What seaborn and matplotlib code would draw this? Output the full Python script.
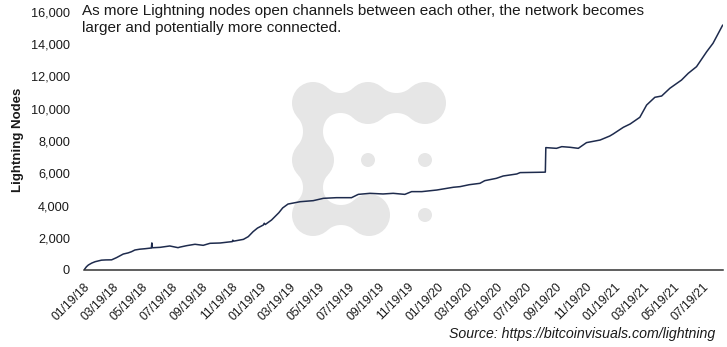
import numpy as np
import pandas as pd
import matplotlib
matplotlib.use("Agg")
import matplotlib.pyplot as plt
from matplotlib.patches import Circle, Polygon
import seaborn as sns

# ---------------- data ----------------
dates = [
    "2018-01-19", "2018-01-24", "2018-01-28", "2018-02-04", "2018-02-11", "2018-02-24",
    "2018-03-05", "2018-03-17", "2018-03-27", "2018-04-10", "2018-04-20", "2018-04-27",
    "2018-05-04", "2018-05-14", "2018-05-25", "2018-06-07", "2018-06-08", "2018-06-09",
    "2018-06-25", "2018-07-15", "2018-08-01", "2018-08-05", "2018-08-19", "2018-09-05",
    "2018-09-22", "2018-10-06", "2018-10-27", "2018-11-13", "2018-11-21", "2018-11-22",
    "2018-11-24", "2018-12-14", "2018-12-24", "2019-01-03", "2019-01-12", "2019-01-24",
    "2019-01-26", "2019-01-28", "2019-02-10", "2019-02-25", "2019-03-05", "2019-03-16",
    "2019-04-10", "2019-05-07", "2019-05-28", "2019-06-24", "2019-07-25", "2019-08-08",
    "2019-09-01", "2019-09-28", "2019-10-19", "2019-11-12", "2019-11-26", "2019-12-17",
    "2020-01-17", "2020-02-20", "2020-03-05", "2020-03-24", "2020-04-15", "2020-04-25",
    "2020-05-19", "2020-06-02", "2020-06-30", "2020-07-07", "2020-08-24", "2020-08-28",
    "2020-08-29", "2020-09-20", "2020-10-01", "2020-10-18", "2020-11-04", "2020-11-21",
    "2020-12-19", "2021-01-08", "2021-01-15", "2021-02-05", "2021-02-19", "2021-03-11",
    "2021-03-25", "2021-04-11", "2021-04-25", "2021-05-12", "2021-06-05", "2021-06-19",
    "2021-07-06", "2021-07-13", "2021-07-27", "2021-08-09", "2021-08-20", "2021-08-29",
]
nodes = [
    0, 200, 310, 430, 515, 610,
    625, 630, 765, 990, 1060, 1135,
    1240, 1290, 1320, 1365, 1680, 1380,
    1405, 1490, 1385, 1420, 1510, 1595,
    1530, 1655, 1675, 1735, 1760, 1850,
    1790, 1900, 2070, 2380, 2600, 2790,
    2900, 2820, 3100, 3550, 3850, 4090,
    4235, 4300, 4445, 4485, 4485, 4690,
    4755, 4715, 4755, 4690, 4860, 4860,
    4960, 5130, 5170, 5290, 5375, 5540,
    5685, 5830, 5955, 6040, 6065, 6070,
    7590, 7545, 7650, 7610, 7545, 7900,
    8060, 8310, 8435, 8850, 9055, 9470,
    10230, 10710, 10790, 11270, 11780, 12200,
    12610, 12920, 13540, 14060, 14680, 15190,
]
tick_dates = [
    "2018-01-19", "2018-03-19", "2018-05-19", "2018-07-19", "2018-09-19", "2018-11-19",
    "2019-01-19", "2019-03-19", "2019-05-19", "2019-07-19", "2019-09-19", "2019-11-19",
    "2020-01-19", "2020-03-19", "2020-05-19", "2020-07-19", "2020-09-19", "2020-11-19",
    "2021-01-19", "2021-03-19", "2021-05-19", "2021-07-19",
]
tick_labels = [
    "01/19/18", "03/19/18", "05/19/18", "07/19/18", "09/19/18", "11/19/18",
    "01/19/19", "03/19/19", "05/19/19", "07/19/19", "09/19/19", "11/19/19",
    "01/19/20", "03/19/20", "05/19/20", "07/19/20", "09/19/20", "11/19/20",
    "01/19/21", "03/19/21", "05/19/21", "07/19/21",
]
y_ticks = [0, 2000, 4000, 6000, 8000, 10000, 12000, 14000, 16000]
title_text = ("As more Lightning nodes open channels between each other, the network becomes\n"
              "larger and potentially more connected.")
ylabel_text = "Lightning Nodes"
source_text = "Source: https://bitcoinvisuals.com/lightning"

df = pd.DataFrame({"date": pd.to_datetime(dates), "nodes": nodes})

# ---------------- style ----------------
sns.set_style("white")
plt.rcParams["font.family"] = ["Liberation Sans", "DejaVu Sans"]
TXT = "#1a1a1a"
LINE = "#1e2b4d"
LOGO = "#e6e6e6"

W, H = 727, 347
fig = plt.figure(figsize=(W / 100, H / 100), dpi=100)

# ---------------- watermark (pixel-space overlay behind chart) ----------------
bg = fig.add_axes([0, 0, 1, 1], zorder=0)
bg.set_xlim(0, W)
bg.set_ylim(H, 0)
bg.axis("off")

R = 21.0
big = [(313, 103), (368, 103), (425, 103), (313, 160), (313, 215), (369, 215)]
links = [((313, 103), (368, 103)), ((368, 103), (425, 103)),
         ((313, 103), (313, 160)), ((313, 160), (313, 215)),
         ((313, 215), (369, 215))]
small = [(368, 160), (425, 160), (425, 215)]

def neck(p1, p2, r=R, half=10.0):
    p1 = np.array(p1, float); p2 = np.array(p2, float)
    d = np.linalg.norm(p2 - p1)
    u = (p2 - p1) / d
    n = np.array([-u[1], u[0]])
    Rf = ((d / 2) ** 2 + half ** 2 - r ** 2) / (2 * r - 2 * half)
    h = Rf + half
    xt = r * (d / 2) / (r + Rf)
    s = np.linspace(xt, d - xt, 40)
    off = h - np.sqrt(np.maximum(Rf ** 2 - (s - d / 2) ** 2, 0))
    top = [p1 + u * si + n * oi for si, oi in zip(s, off)]
    bot = [p1 + u * si - n * oi for si, oi in zip(s[::-1], off[::-1])]
    return np.array(top + bot)

for c in big:
    bg.add_patch(Circle(c, R, color=LOGO, lw=0))
for a, b in links:
    bg.add_patch(Polygon(neck(a, b), closed=True, color=LOGO, lw=0))
for c in small:
    bg.add_patch(Circle(c, 7, color=LOGO, lw=0))

# ---------------- main chart ----------------
x0, x1 = 84, 722.7
ytop, ybot = 12, 270
ax = fig.add_axes([x0 / W, 1 - ybot / H, (x1 - x0) / W, (ybot - ytop) / H], zorder=1)
ax.patch.set_visible(False)

sns.lineplot(data=df, x="date", y="nodes", ax=ax, color=LINE, linewidth=1.1)

ax.set_xlim(pd.Timestamp("2018-01-19"), pd.Timestamp("2021-08-29"))
ax.set_ylim(0, 16000)

for s in ["top", "right", "left"]:
    ax.spines[s].set_visible(False)
ax.spines["bottom"].set_color("#333333")
ax.spines["bottom"].set_linewidth(1.1)

ax.set_yticks(y_ticks)
ax.set_yticklabels([f"{v:,}" for v in y_ticks], fontsize=9.2, color=TXT)
ax.tick_params(axis="y", length=0, pad=10)

ax.set_xticks(pd.to_datetime(tick_dates))
ax.set_xticklabels(tick_labels, rotation=45, ha="right", rotation_mode="anchor",
                   fontsize=8.8, color=TXT)
ax.tick_params(axis="x", direction="out", length=5, width=0.9, color="#333333", pad=3)
ax.set_xlabel("")
ax.set_ylabel("")

fig.text(18 / W, 1 - 140 / H, ylabel_text, rotation=90, ha="center", va="center",
         fontsize=9.5, fontweight="bold", color=TXT)
fig.text(82 / W, 1 - 4 / H, title_text, ha="left", va="top", fontsize=11,
         color=TXT, linespacing=1.3)
fig.text(715 / W, 1 - 334 / H, source_text, ha="right", va="center", fontsize=10.2,
         style="italic", color=TXT)

fig.savefig("out.png", dpi=100)
